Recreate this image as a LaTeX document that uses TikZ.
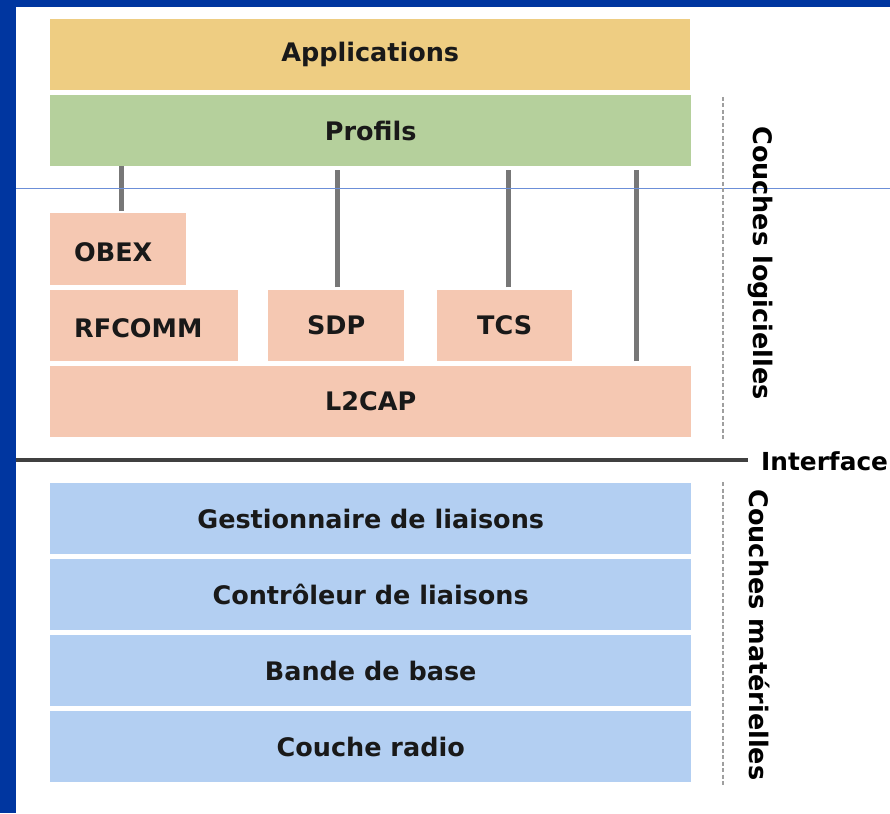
\documentclass[tikz,border=0pt]{standalone}
\usepackage{fontspec}
\setmainfont{DejaVu Sans}
\begin{document}
\begin{tikzpicture}[x=1pt,y=-1pt,
  box/.style={anchor=north west,inner sep=0pt,font=\fontsize{25.5}{30}\selectfont\bfseries,text=black!90},
  app/.style={box,fill=appcol},
  prof/.style={box,fill=profcol},
  soft/.style={box,fill=softcol},
  hard/.style={box,fill=hardcol},
  lbl/.style={anchor=west,font=\fontsize{25.5}{30}\selectfont\bfseries,text=black!90,inner sep=0pt},
  conn/.style={draw=conncol,line width=5pt},
  sep/.style={draw=gray!75,line width=1.8pt,dash pattern=on 4pt off 2.5pt},
  side/.style={font=\fontsize{25.5}{30}\selectfont\bfseries,rotate=-90,inner sep=0pt}]
\definecolor{appcol}{HTML}{EECD82}
\definecolor{profcol}{HTML}{B5D09C}
\definecolor{softcol}{HTML}{F5C8B2}
\definecolor{hardcol}{HTML}{B3CFF2}
\definecolor{conncol}{HTML}{777777}
\definecolor{framecol}{HTML}{0036A0}
\definecolor{thincol}{HTML}{6C8FD8}
\useasboundingbox (0,0) rectangle (890,813);
\fill[white] (0,0) rectangle (890,813);
\fill[framecol] (0,0) rectangle (16,813);
\fill[framecol] (0,0) rectangle (890,7);
% boxes
\node[app,minimum width=640pt,minimum height=71pt] (app) at (50,19) {Applications};
\node[prof,minimum width=641pt,minimum height=71pt] (prof) at (50,95) {Profils};
\node[soft,minimum width=136pt,minimum height=72pt] (obex) at (50,213) {};
\node[lbl] (obext) at (74,252) {OBEX};
\node[soft,minimum width=188pt,minimum height=71pt] (rfcomm) at (50,290) {};
\node[lbl] (rfcommt) at (74,328) {RFCOMM};
\node[soft,minimum width=136pt,minimum height=71pt] (sdp) at (268,290) {SDP};
\node[soft,minimum width=135pt,minimum height=71pt] (tcs) at (437,290) {TCS};
\node[soft,minimum width=641pt,minimum height=71pt] (l2cap) at (50,366) {L2CAP};
\node[hard,minimum width=641pt,minimum height=71pt] (gest) at (50,483) {Gestionnaire de liaisons};
\node[hard,minimum width=641pt,minimum height=71pt] (ctrl) at (50,559) {Contrôleur de liaisons};
\node[hard,minimum width=641pt,minimum height=71pt] (bande) at (50,635) {Bande de base};
\node[hard,minimum width=641pt,minimum height=71pt] (radio) at (50,711) {Couche radio};
% connectors
\coordinate (c1) at (121,211);
\coordinate (c2) at (337,287);
\coordinate (c3) at (508,287);
\coordinate (c4) at (636,361);
\draw[conn] (c1) -- (c1 |- prof.south);
\draw[conn] (c2) -- ([yshift=-4pt]c2 |- prof.south);
\draw[conn] (c3) -- ([yshift=-4pt]c3 |- prof.south);
\draw[conn] (c4) -- ([yshift=-4pt]c4 |- prof.south);
% thin blue guide line
\draw[thincol,line width=1pt] (16,188) -- (890,188);
% interface
\coordinate (ifl) at (16,460);
\coordinate (ifr) at (748,460);
\node[anchor=west,font=\fontsize{24.8}{30}\selectfont\bfseries,inner sep=0pt] (iface) at (761,461) {Interface};
\draw[draw=black!75,line width=4pt] (ifl) -- (ifr);
% separators
\coordinate (s1a) at (723,97);
\coordinate (s1b) at (723,440);
\coordinate (s2a) at (723,482);
\coordinate (s2b) at (723,785);
\draw[sep] (s1a) -- (s1b);
\draw[sep] (s2a) -- (s2b);
\node[side] (logi) at (760,263) {Couches logicielles};
\node[side] (mat) at (760,635) {Couches matérielles};
\end{tikzpicture}
\end{document}
